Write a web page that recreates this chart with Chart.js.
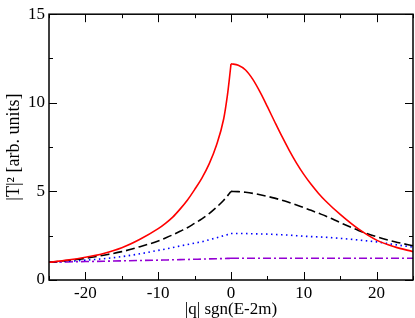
<!DOCTYPE html>
<html>
<head>
<meta charset="utf-8">
<script src="https://cdn.jsdelivr.net/npm/chart.js@4.4.0/dist/chart.umd.min.js"></script>
<style>
html,body{margin:0;padding:0;background:#fff;}
#wrap{width:415px;height:318px;position:relative;}
</style>
</head>
<body>
<div id="wrap"><canvas id="c" width="415" height="318"></canvas></div>
<script>
// q values (|q| sgn(E-2m))
const qValues = [-25,-22.5,-20,-17.5,-15,-12.5,-10,-9,-8,-7,-6,-5,-4,-3,-2,-1,-0.5,-0.25,0,1,2,3,4,5,6,7,8,9,10,11,12,13,15,17.5,20,22.5,25];
const redSeries    = [1.0,1.12,1.28,1.5,1.82,2.3,2.9,3.2,3.55,4.0,4.5,5.1,5.75,6.55,7.6,9.1,10.4,11.25,12.2,12.12,11.85,11.32,10.6,9.78,8.93,8.1,7.32,6.6,5.96,5.4,4.9,4.46,3.7,2.88,2.25,1.87,1.6];
const blackSeries  = [1.0,1.1,1.22,1.4,1.6,1.88,2.2,2.37,2.55,2.75,2.95,3.2,3.45,3.75,4.1,4.5,4.74,4.87,5.0,4.99,4.95,4.89,4.81,4.72,4.62,4.5,4.37,4.23,4.08,3.93,3.77,3.61,3.24,2.8,2.44,2.16,1.93];
const blueSeries   = [1.0,1.05,1.12,1.2,1.32,1.48,1.67,1.75,1.83,1.92,2.0,2.08,2.16,2.27,2.38,2.5,2.56,2.59,2.62,2.62,2.62,2.61,2.6,2.59,2.57,2.55,2.53,2.5,2.47,2.45,2.43,2.41,2.35,2.26,2.15,2.0,1.85];
const violetSeries = [1.0,1.02,1.04,1.06,1.08,1.1,1.12,1.13,1.14,1.15,1.16,1.17,1.18,1.19,1.2,1.21,1.22,1.22,1.23,1.23,1.23,1.23,1.23,1.23,1.23,1.23,1.23,1.23,1.23,1.23,1.23,1.23,1.23,1.23,1.23,1.23,1.23];
const xTicks = [-20,-10,0,10,20];
const yTicks = [0,5,10,15];

const peakIdx = qValues.indexOf(0);
function pts(vals, from, to){
  const out=[];
  for(let i=from;i<=to;i++) out.push({x:qValues[i], y:vals[i]});
  return out;
}
const styles = [
  {vals:redSeries, color:'#ff0000', dash:[]},
  {vals:blackSeries, color:'#000000', dash:[9,4]},
  {vals:blueSeries, color:'#0000ff', dash:[1.5,3.5]},
  {vals:violetSeries, color:'rgb(148,0,211)', dash:[8,3,2,3]}
];
const datasets=[];
styles.forEach(s=>{
  [[0,peakIdx],[peakIdx,qValues.length-1]].forEach(r=>{
    datasets.push({
      data: pts(s.vals, r[0], r[1]),
      borderColor: s.color,
      borderWidth: 1.6,
      borderDash: s.dash,
      pointRadius: 0,
      fill: false,
      cubicInterpolationMode: 'monotone'
    });
  });
});

const tickPlugin = {
  id:'inticks',
  afterDraw(chart){
    const ctx=chart.ctx, a=chart.chartArea, xs=chart.scales.x, ys=chart.scales.y;
    ctx.save();
    ctx.strokeStyle='#000';
    ctx.lineWidth=1;
    ctx.beginPath();
    for(let v=-25; v<=25; v+=5){
      const px=Math.round(xs.getPixelForValue(v))+0.5;
      const len = (v%10===0)?8:4;
      ctx.moveTo(px,a.bottom); ctx.lineTo(px,a.bottom-len);
      ctx.moveTo(px,a.top); ctx.lineTo(px,a.top+len);
    }
    for(let v=0; v<=15; v+=2.5){
      const py=Math.round(ys.getPixelForValue(v))+0.5;
      const len = (v%5===0)?8:4;
      ctx.moveTo(a.left,py); ctx.lineTo(a.left+len,py);
      ctx.moveTo(a.right,py); ctx.lineTo(a.right-len,py);
    }
    ctx.stroke();
    ctx.lineWidth=1.5;
    ctx.strokeRect(a.left,a.top,a.right-a.left,a.bottom-a.top);
    ctx.restore();
  }
};

new Chart(document.getElementById('c'),{
  type:'line',
  data:{datasets},
  options:{
    responsive:false,
    animation:false,
    layout:{padding:{left:0,right:2,top:7,bottom:0}},
    plugins:{legend:{display:false},tooltip:{enabled:false}},
    scales:{
      x:{
        type:'linear', min:-25, max:25,
        afterBuildTicks(s){ s.ticks = xTicks.map(v=>({value:v})); },
        afterFit(s){ s.height=38; },
        grid:{display:false, drawTicks:false},
        border:{display:false},
        ticks:{color:'#000', padding:3, maxRotation:0, autoSkip:false,
               font:{family:'Liberation Serif', size:17}},
        title:{display:true, text:'|q| sgn(E-2m)', color:'#000',
               font:{family:'Liberation Serif', size:17}, padding:{top:0,bottom:-2}}
      },
      y:{
        type:'linear', min:0, max:15,
        afterBuildTicks(s){ s.ticks = yTicks.map(v=>({value:v})); },
        afterFit(s){ s.width=49; },
        grid:{display:false, drawTicks:false},
        border:{display:false},
        ticks:{color:'#000', padding:4,
               font:{family:'Liberation Serif', size:17}},
        title:{display:true, text:'|T|² [arb. units]', color:'#000',
               font:{family:'Liberation Serif', size:18}, padding:{top:3,bottom:0}}
      }
    }
  },
  plugins:[tickPlugin]
});
</script>
</body>
</html>
